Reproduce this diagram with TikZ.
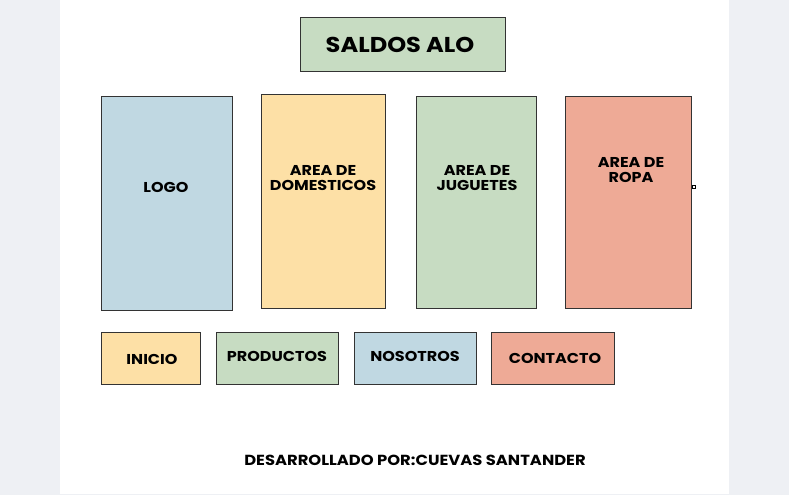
\documentclass[tikz,border=0pt]{standalone}
\usepackage{fontspec}
\setmainfont{Poppins}[BoldFont={* Bold},FakeStretch=1.12]
\definecolor{bgside}{HTML}{EEF0F4}
\definecolor{cblue}{HTML}{C0D8E2}
\definecolor{cyellow}{HTML}{FDE0A6}
\definecolor{cgreen}{HTML}{C7DCC2}
\definecolor{csalmon}{HTML}{EEAA96}
\definecolor{cline}{HTML}{333333}
\begin{document}
\begin{tikzpicture}[x=1pt,y=-1pt,
  box/.style={draw=cline,line width=1pt},
  lbl/.style={font=\bfseries\fontsize{14.3}{15.5}\selectfont,align=center,inner sep=0pt}]
\useasboundingbox (0,0) rectangle (789,495);
\fill[bgside] (0,0) rectangle (789,495);
\fill[white] (60,0) rectangle (729,494);
% title
\draw[box,fill=cgreen] (300,18) rectangle (505,71);
\node[lbl,font=\bfseries\fontsize{21.5}{23}\selectfont] (title) at (400,45) {SALDOS ALO};
% big boxes
\draw[box,fill=cblue] (101,96) rectangle (232,310);
\node[lbl] (logo) at (166,187) {LOGO};
\draw[box,fill=cyellow] (261,94) rectangle (385,308);
\node[lbl] (dom) at (323,178) {AREA DE\\DOMESTICOS};
\draw[box,fill=cgreen] (416,96) rectangle (536,308);
\node[lbl] (jug) at (477,178) {AREA DE\\JUGUETES};
\draw[box,fill=csalmon] (565,96) rectangle (691,308);
\node[lbl] (ropa) at (631,170) {AREA DE\\ROPA};
\draw[line width=0.8pt,fill=white] (692,185.5) rectangle (695,188.5);
% menu
\draw[box,fill=cyellow] (101,332) rectangle (200,384);
\node[lbl] (inicio) at (152,359) {INICIO};
\draw[box,fill=cgreen] (216,332) rectangle (338,384);
\node[lbl] (prod) at (277,356) {PRODUCTOS};
\draw[box,fill=cblue] (354,332) rectangle (476,384);
\node[lbl] (nos) at (415,356) {NOSOTROS};
\draw[box,fill=csalmon] (491,332) rectangle (614,384);
\node[lbl] (cont) at (555,358) {CONTACTO};
% footer
\node[lbl,font=\bfseries\fontsize{14.6}{16}\selectfont] (footer) at (415,460) {DESARROLLADO POR:CUEVAS SANTANDER};
\end{tikzpicture}
\end{document}
